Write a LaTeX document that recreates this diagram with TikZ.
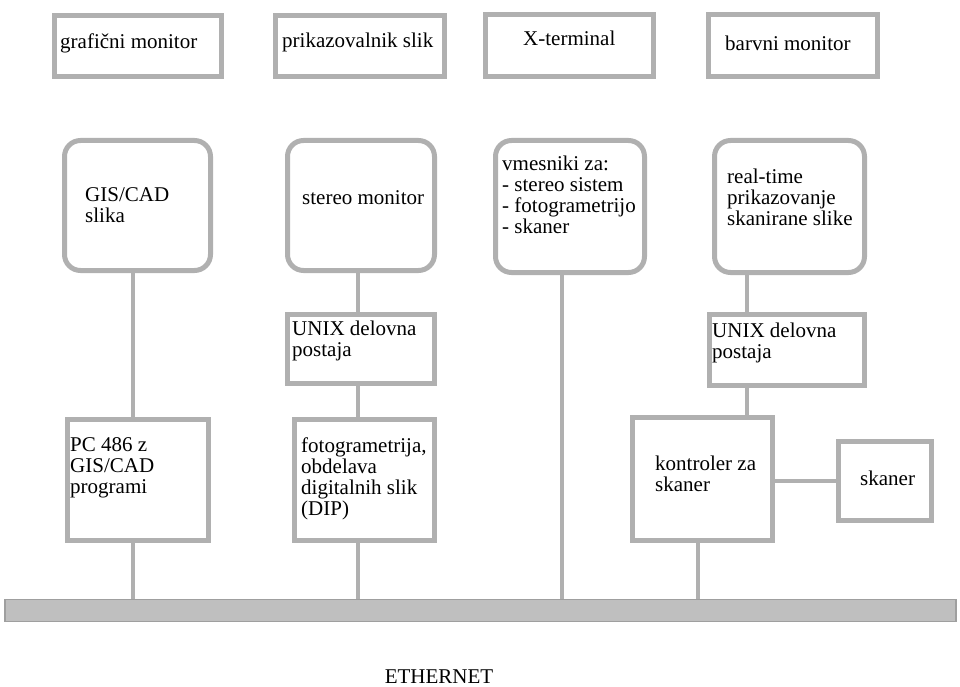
\documentclass[tikz,border=0pt]{standalone}
\usepackage{fontspec}
\setmainfont{Liberation Serif}
\usetikzlibrary{backgrounds}
\begin{document}
\begin{tikzpicture}[x=1pt,y=-1pt,
  box/.style={draw=gray!62, line width=5pt, fill=white, rectangle, inner sep=0pt},
  rbox/.style={box, rounded corners=16pt},
  txt/.style={anchor=west, align=left, inner sep=0pt, font=\fontsize{21}{21}\selectfont},
  wire/.style={draw=gray!62, line width=4.5pt},
]
\useasboundingbox (0,0) rectangle (960,687);

% top row
\node[box, minimum width=167pt, minimum height=61pt] (g1) at (138,46) {};
\node[box, minimum width=169pt, minimum height=61pt] (g2) at (360,46) {};
\node[box, minimum width=168pt, minimum height=62pt] (g3) at (569.5,45.5) {};
\node[box, minimum width=169pt, minimum height=62pt] (g4) at (793,45.5) {};

% rounded row
\node[rbox, minimum width=146pt, minimum height=130pt] (r1) at (137.5,205.5) {};
\node[rbox, minimum width=147pt, minimum height=130pt] (r2) at (361,205.5) {};
\node[rbox, minimum width=149pt, minimum height=132pt] (r3) at (570,206.5) {};
\node[rbox, minimum width=150pt, minimum height=132pt] (r4) at (789.5,206.5) {};

% UNIX boxes
\node[box, minimum width=147pt, minimum height=69pt] (u1) at (361,349) {};
\node[box, minimum width=155pt, minimum height=71pt] (u2) at (787,350) {};

% lower boxes
\node[box, minimum width=141pt, minimum height=121pt] (pc) at (138,480) {};
\node[box, minimum width=140pt, minimum height=121pt] (foto) at (364.5,480) {};
\node[box, minimum width=140pt, minimum height=123pt] (kon) at (702.5,479) {};
\node[box, minimum width=93pt, minimum height=79pt] (sk) at (885,481) {};

% ethernet bus
\node[draw=gray!75, fill=gray!50, line width=1.2pt, minimum width=951pt, minimum height=22pt, inner sep=0pt] (bus) at (480.5,610.5) {};

% connector columns
\coordinate (c1) at (133,0);
\coordinate (c2) at (358,0);
\coordinate (c3) at (562,0);
\coordinate (c4) at (747,0);
\coordinate (c5) at (698,0);

\begin{scope}[on background layer]
  \draw[wire] (r1.south -| c1) -- (pc.north -| c1);
  \draw[wire] (pc.south -| c1) -- (bus.north -| c1);
  \draw[wire] (r2.south -| c2) -- (u1.north -| c2);
  \draw[wire] (u1.south -| c2) -- (foto.north -| c2);
  \draw[wire] (foto.south -| c2) -- (bus.north -| c2);
  \draw[wire] (r3.south -| c3) -- (bus.north -| c3);
  \draw[wire] (r4.south -| c4) -- (u2.north -| c4);
  \draw[wire] (u2.south -| c4) -- (kon.north -| c4);
  \draw[wire] (kon.south -| c5) -- (bus.north -| c5);
  \draw[wire] (kon.east |- sk.west) -- (sk.west);
\end{scope}

% texts
\node[txt] (t1) at (60,43) {grafični monitor};
\node[txt] (t2) at (282,42) {prikazovalnik slik};
\node[txt] (t3) at (523,38) {X-terminal};
\node[txt] (t4) at (725,43) {barvni monitor};
\node[txt] (t5) at (85,205) {GIS/CAD\\slika};
\node[txt] (t6) at (302,198) {stereo monitor};
\node[txt] (t7) at (502,195) {vmesniki za:\\- stereo sistem\\- fotogrametrijo\\- skaner};
\node[txt] (t8) at (727,197) {real-time\\prikazovanje\\skanirane slike};
\node[txt] (t9) at (292,341) {UNIX delovna\\postaja};
\node[txt] (t10) at (712,343) {UNIX delovna\\postaja};
\node[txt] (t11) at (70,468) {PC 486 z\\GIS/CAD\\programi};
\node[txt] (t12) at (301,479) {fotogrametrija,\\obdelava\\digitalnih slik\\(DIP)};
\node[txt] (t13) at (655,474) {kontroler za\\skaner};
\node[txt] (t14) at (860,478) {skaner};
\node[txt, anchor=center] (eth) at (439,677) {ETHERNET};
\end{tikzpicture}
\end{document}
